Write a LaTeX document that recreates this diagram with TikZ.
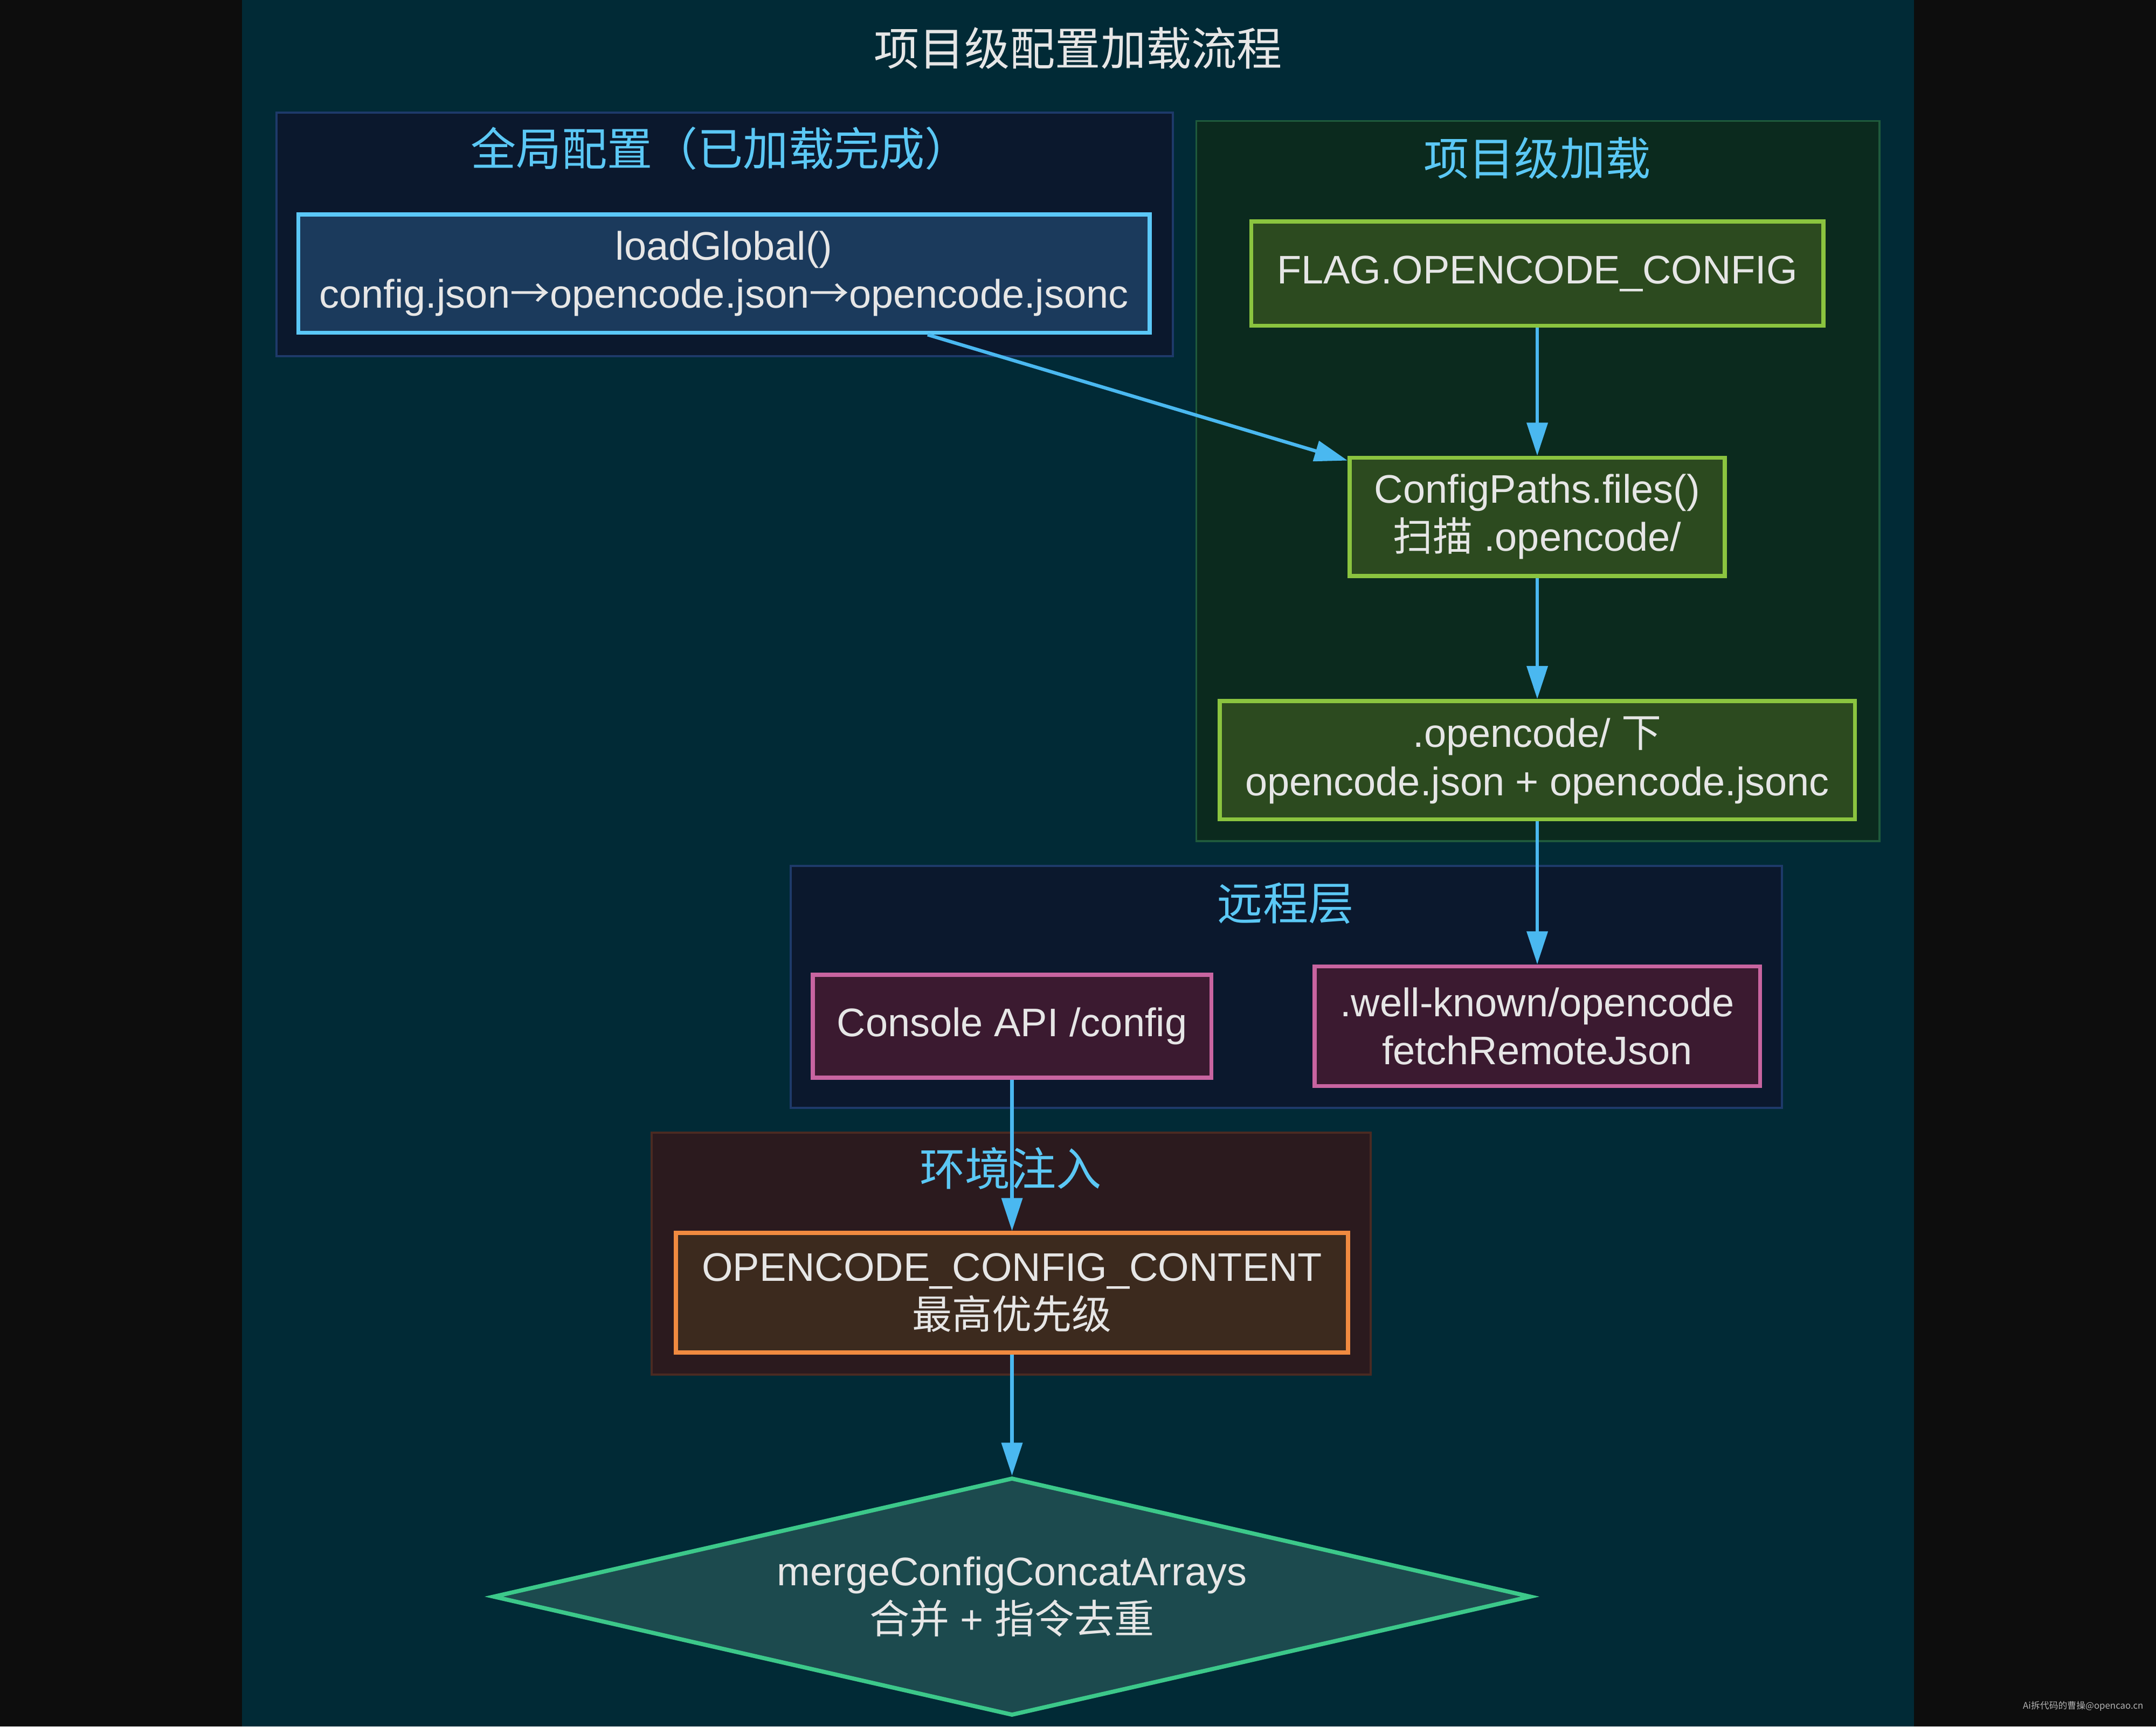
\documentclass[tikz,border=0pt]{standalone}
\usepackage{fontspec}
\setmainfont{Liberation Sans}
\newfontfamily\cjk{Noto Sans CJK SC}
\usetikzlibrary{positioning, arrows.meta, shapes.geometric}
\definecolor{outerbg}{HTML}{0D0D0D}
\definecolor{panelbg}{HTML}{012A36}
\definecolor{txtc}{HTML}{E6E6E6}
\definecolor{ctitlec}{HTML}{5BC8F5}
\definecolor{flowc}{HTML}{4AB8F0}
\definecolor{bluefill}{HTML}{0B182D}
\definecolor{blueline}{HTML}{1E3A6A}
\definecolor{greenfill}{HTML}{0B2A1E}
\definecolor{greenline}{HTML}{1F5A3C}
\definecolor{brownfill}{HTML}{2B1A1E}
\definecolor{brownline}{HTML}{4A2A22}
\definecolor{gfill}{HTML}{1B3A5C}
\definecolor{gline}{HTML}{5BC8F8}
\definecolor{pfill}{HTML}{2C4A1F}
\definecolor{pline}{HTML}{8BC43F}
\definecolor{rfill}{HTML}{3B1A30}
\definecolor{rline}{HTML}{C864A0}
\definecolor{efill}{HTML}{3C2A1E}
\definecolor{eline}{HTML}{F08A40}
\definecolor{mfill}{HTML}{1C4A4E}
\definecolor{mline}{HTML}{3CC88A}
\begin{document}
\begin{tikzpicture}[x=1pt, y=-1pt, >={Triangle[length=24pt, width=15pt]},
  box/.style={draw, rectangle, line width=3pt, inner sep=0pt, align=center, text=txtc, font=\fontsize{29}{35}\selectfont},
  cluster/.style={draw, rectangle, line width=1.5pt, inner sep=0pt},
  ctitle/.style={text=ctitlec, font=\cjk\fontsize{33}{40}\selectfont},
  flow/.style={->, line width=2.5pt, draw=flowc, fill=flowc}]
\fill[outerbg] (0,0) rectangle (1568,1256);
\fill[panelbg] (176,0) rectangle (1392,1256);
\useasboundingbox (0,0) rectangle (1568,1256);
\node (title) at (784,35) [text=txtc, font=\cjk\fontsize{33}{40}\selectfont] {项目级配置加载流程};

\node (gcl) at (527,170.5) [cluster, fill=bluefill, draw=blueline, minimum width=652pt, minimum height=177pt] {};
\node (gtitle) at (524,108) [ctitle] {全局配置（已加载完成）};
\node (pcl) at (1118.5,350) [cluster, fill=greenfill, draw=greenline, minimum width=497pt, minimum height=524pt] {};
\node (ptitle) at (1118,115) [ctitle] {项目级加载};
\node (rcl) at (935.5,718) [cluster, fill=bluefill, draw=blueline, minimum width=721pt, minimum height=176pt] {};
\node (rtitle) at (935,657) [ctitle] {远程层};
\node (ecl) at (735.5,912) [cluster, fill=brownfill, draw=brownline, minimum width=523pt, minimum height=176pt] {};
\node (etitle) at (735,850) [ctitle] {环境注入};

\node (lg) at (526.5,199) [box, fill=gfill, draw=gline, minimum width=619pt, minimum height=86pt] {loadGlobal()\\config.json{\cjk →}opencode.json{\cjk →}opencode.jsonc};
\node (flag) at (1118,199) [box, fill=pfill, draw=pline, minimum width=416pt, minimum height=76pt] {FLAG.OPENCODE\_CONFIG};
\node (cp) [box, fill=pfill, draw=pline, minimum width=273pt, minimum height=86pt, below=93pt of flag] {ConfigPaths.files()\\{\cjk 扫描} .opencode/};
\node (oc) [box, fill=pfill, draw=pline, minimum width=462pt, minimum height=86pt, below=88pt of cp] {.opencode/ {\cjk 下}\\opencode.json + opencode.jsonc};
\node (wk) [box, fill=rfill, draw=rline, minimum width=324pt, minimum height=87pt, below=104pt of oc] {.well-known/opencode\\fetchRemoteJson};
\node (con) at (736,746.5) [box, fill=rfill, draw=rline, minimum width=290pt, minimum height=75pt] {Console API /config};
\node (occ) at (736,940.5) [box, fill=efill, draw=eline, minimum width=489pt, minimum height=87pt] {OPENCODE\_CONFIG\_CONTENT\\{\cjk 最高优先级}};
\node (merge) [diamond, draw=mline, fill=mfill, line width=3pt, aspect=4.36, inner sep=0pt, minimum width=755pt, minimum height=173pt, align=center, text=txtc, font=\fontsize{29}{35}\selectfont, below=88pt of occ] {mergeConfigConcatArrays\\{\cjk 合并} + {\cjk 指令去重}};

\draw[flow] (lg) -- (cp);
\draw[flow] (flag) -- (cp);
\draw[flow] (cp) -- (oc);
\draw[flow] (oc) -- (wk);
\draw[flow] (con) -- (occ);
\draw[flow] (occ) -- (merge);

\fill[black!95] (1468,1232) rectangle (1562,1250);
\node (mark) at (1515,1241) [text=black!30, font=\cjk\fontsize{6.6}{8}\selectfont] {Ai拆代码的曹操@opencao.cn};
\end{tikzpicture}
\end{document}
